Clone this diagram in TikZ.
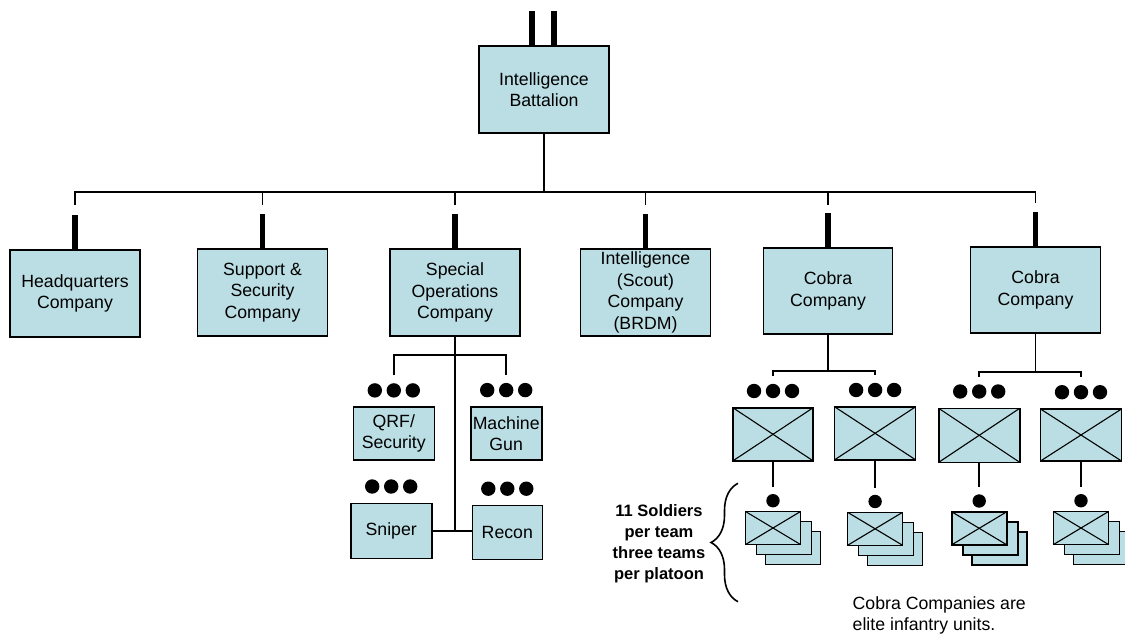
\documentclass[tikz,border=0pt]{standalone}
\usepackage{fontspec}
\setmainfont{Liberation Sans}
\usetikzlibrary{decorations.pathreplacing}
\definecolor{unitblue}{RGB}{186,222,228}

\tikzset{
	unitbox/.style={draw=black,fill=unitblue,line width=1.6pt,inner sep=0pt,align=center,
		font=\fontsize{17.7}{21.4}\selectfont},
	link/.style={line width=1.6pt},
	bar/.style={line width=5.6pt},
	xbox/.style={unitbox,path picture={
		\draw[line width=1.1pt] (path picture bounding box.north west)--(path picture bounding box.south east);
		\draw[line width=1.1pt] (path picture bounding box.south west)--(path picture bounding box.north east);}},
	note/.style={inner sep=0pt,font=\fontsize{17.7}{21}\selectfont},
}
% three dots over a platoon box
\newcommand\pltdots[2]{\foreach \dx in {-19,0,19} {\fill ([shift={(\dx,-#2)}]#1.north) circle (7.2);}}
% stack of three squads with one dot
\newcommand\squadstack[3]{%
	\node[unitbox,minimum width=55,minimum height=33] (#1c) at (#2+20,#3+20) {};
	\node[unitbox,minimum width=55,minimum height=33] (#1b) at (#2+11,#3+10) {};
	\node[xbox,minimum width=55,minimum height=33] (#1) at (#2,#3) {};
	\fill ([yshift=10pt]#1.north) circle (6.7);}

\begin{document}
\begin{tikzpicture}[x=1pt,y=-1pt]
	\useasboundingbox (0,0) rectangle (1125,634);
	
	% battalion
	\node[unitbox,minimum width=130,minimum height=87] (batt) at (544,89.5) {Intelligence\\Battalion};
	\draw[bar] ([xshift=-12pt]batt.north) -- ++(0,-34);
	\draw[bar] ([xshift=10pt]batt.north) -- ++(0,-34);
	
	% companies
	\node[unitbox,minimum width=130,minimum height=87] (hq) at (75,293.5) {Headquarters\\Company};
	\node[unitbox,minimum width=130,minimum height=87] (supp) at (262.5,292.5) {Support \&\\Security\\Company};
	\node[unitbox,minimum width=130,minimum height=87] (spec) at (455,292.5) {Special\\Operations\\Company};
	\node[unitbox,minimum width=130,minimum height=87] (intel) at (645.5,292.5) {Intelligence\\(Scout)\\Company\\(BRDM)};
	\node[unitbox,minimum width=129,minimum height=86] (cob1) at (828,291) {Cobra\\Company};
	\node[unitbox,minimum width=130,minimum height=86] (cob2) at (1035.5,290) {Cobra\\Company};
	
	\coordinate (bus) at (544,192);
	\draw[link] (batt) -- (bus);
	\draw[link] (hq |- bus) ++(0,13) -- (hq |- bus) -- (cob2 |- bus) -- ++(0,11);
	\foreach \c in {supp,spec,intel,cob1}
		{\draw[link] (\c |- bus) -- ++(0,13);}
	\foreach \c in {hq,supp,spec,intel,cob1,cob2}
		{\draw[bar] (\c.north) -- ++(0,-34);}
	
	% special operations platoons
	\node[unitbox,minimum width=81,minimum height=53] (qrf) at (393.8,433.7) {QRF/\\Security};
	\node[unitbox,minimum width=71,minimum height=53] (mg) at (506.2,433.4) {Machine\\Gun};
	\node[unitbox,minimum width=81,minimum height=55] (snip) at (391.2,530.8) {Sniper};
	\node[unitbox,minimum width=70,minimum height=54] (recon) at (507.3,532.5) {Recon};
	\foreach \p in {qrf,mg,snip,recon}
		{\pltdots{\p}{16}}
	
	\coordinate (sobus) at (452.7,355);
	\draw[link] (spec.south) -- (spec.south |- snip.east);
	\draw[link] (snip.east) -- (recon.west |- snip.east);
	\draw[link] ([yshift=31pt]qrf.north) |- (sobus) -| ([yshift=31pt]mg.north);
	
	% cobra platoons
	\node[xbox,minimum width=80,minimum height=53] (p1) at (773,434.3) {};
	\node[xbox,minimum width=81,minimum height=53] (p2) at (875.1,433.3) {};
	\node[xbox,minimum width=81,minimum height=54] (p3) at (979.2,435.3) {};
	\node[xbox,minimum width=81,minimum height=52] (p4) at (1081,435) {};
	\foreach \p in {p1,p2,p3,p4}
		{\pltdots{\p}{16}}
	
	\coordinate (c1bus) at (828,370.7);
	\coordinate (c2bus) at (1035.5,371.7);
	\draw[link] (cob1) -- (c1bus);
	\draw[link] (cob2) -- (c2bus);
	\draw[link] ([yshift=31pt]p1.north) |- (c1bus) -| ([yshift=31pt]p2.north);
	\draw[link] ([yshift=31pt]p3.north) |- (c2bus) -| ([yshift=31pt]p4.north);
	
	% squads
	\squadstack{s1}{773}{528}
	\squadstack{s2}{875.1}{528.8}
	\squadstack{s3}{979.2}{528.3}
	\squadstack{s4}{1081}{528}
	\foreach \i in {1,2,3,4}
		{\draw[link] (p\i.south) -- ([yshift=24pt]s\i.north);}
	
	% notes
	\draw[link,decorate,decoration={brace,amplitude=27pt}] (738,601.7) -- (738,483.3);
	\node[note,font=\fontsize{16.5}{21}\selectfont\bfseries,align=center] (teamnote) at (659,543.3)
		{11 Soldiers\\per team\\three teams\\per platoon};
	\node[note,anchor=west,align=left] (cobranote) at (852.5,615.5) {Cobra Companies are\\elite infantry units.};
	
\end{tikzpicture}
\end{document}
